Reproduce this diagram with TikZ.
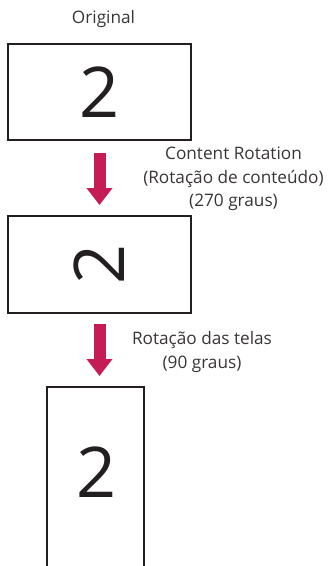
\documentclass[tikz,border=0pt]{standalone}
\usepackage{fontspec}
\setmainfont{Open Sans}
\usetikzlibrary{arrows.meta}
\definecolor{lgred}{RGB}{198,28,86}
\definecolor{ink}{RGB}{35,31,32}
\tikzset{
  screen/.style={draw=ink, line width=2pt, fill=white},
  digit/.style={font=\fontsize{70}{70}\selectfont, text=ink, inner sep=0pt},
  lbl/.style={font=\fontsize{17.2}{23.5}\selectfont, text=ink!90, align=center, inner sep=0pt},
  bigarrow/.style={draw=lgred, line width=12pt, -{Triangle[width=25pt,length=17pt]}}
}
\begin{document}
\begin{tikzpicture}[x=1pt,y=-1pt]
\useasboundingbox (0,0) rectangle (329,566);
\node[lbl] (orig) at (103.5,19) {Original};
\draw[screen] (8,44) rectangle (191,140);
\node[digit] (d1) at (99.5,92) {2};
\coordinate (a1s) at (99.5,153);
\coordinate (a1e) at (99.5,205);
\draw[bigarrow] (a1s) -- (a1e);
\node[lbl] (t1) at (233.5,179) {Content Rotation\\(Rotação de conteúdo)\\(270 graus)};
\draw[screen] (8,216) rectangle (191,313);
\node[digit, rotate=90] (d2) at (99,264) {2};
\coordinate (a2s) at (99.5,324);
\coordinate (a2e) at (99.5,376);
\draw[bigarrow] (a2s) -- (a2e);
\node[lbl] (t2) at (202,352) {Rotação das telas\\(90 graus)};
\draw[screen] (47,387) rectangle (144,570);
\node[digit] (d3) at (97,472) {2};
\end{tikzpicture}
\end{document}
